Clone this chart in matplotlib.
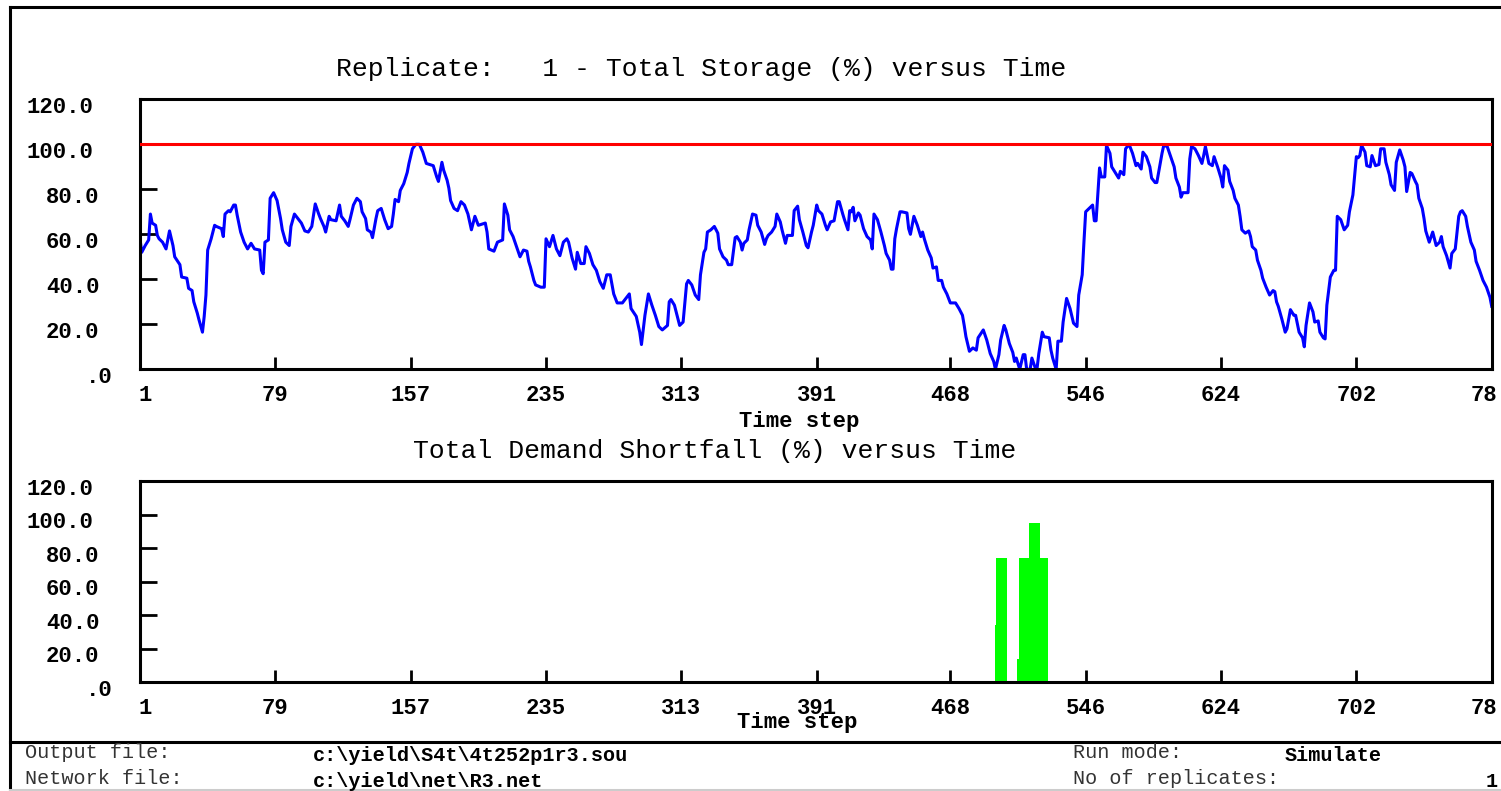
import matplotlib
matplotlib.use("Agg")
import matplotlib.pyplot as plt
from matplotlib import transforms
from matplotlib.lines import Line2D

# reservoir storage (% of full), per time step
storage_step = [
    1, 2, 4, 6, 7, 8, 10, 11, 12, 14,
    16, 18, 20, 21, 24, 25, 28, 29, 31, 32,
    34, 35, 37, 38, 39, 40, 42, 44, 45, 48,
    49, 50, 52, 53, 55, 56, 57, 59, 61, 63,
    65, 67, 70, 71, 72, 73, 75, 76, 78, 80,
    82, 83, 85, 87, 88, 90, 92, 94, 96, 98,
    100, 102, 104, 105, 107, 108, 110, 111, 114, 116,
    117, 119, 121, 122, 124, 126, 128, 129, 131, 132,
    134, 135, 137, 138, 140, 142, 144, 146, 147, 148,
    150, 151, 153, 155, 156,
    158, 160, 162, 164, 166, 168, 170, 172, 173, 175,
    176, 178, 179, 180, 182, 184, 186, 188, 190, 192,
    194, 196, 200, 201, 202, 205, 207, 210, 211, 213,
    214, 216, 218, 220, 222, 224, 225, 226, 228, 229,
    232, 234, 235, 237, 239, 241, 243, 245, 247, 248,
    250, 252, 253, 255, 257, 258, 260, 262, 264, 266,
    268, 270, 272, 274, 276, 279, 281, 283, 284, 287,
    289, 290, 292, 294, 296, 298, 300, 302, 305, 306,
    307, 309, 311, 312,
    314, 316, 317, 319, 321, 323, 324, 326, 327, 328,
    330, 332, 334, 335, 337, 339, 340, 342, 344, 345,
    347, 348, 349, 351, 352, 354, 356, 357, 359, 361,
    362, 363, 365, 367, 368, 370, 371, 373, 374, 377,
    378, 380, 381, 383, 385, 386, 388, 389, 391, 392,
    394, 396, 397, 399, 401, 403, 404, 406, 407, 409,
    410, 411, 412, 413, 415, 416, 418, 420, 422, 423,
    424, 426, 428, 430, 431, 433, 434, 435, 436, 437,
    439, 440, 443, 444, 445, 447, 449, 451, 452, 453,
    455, 457, 458, 460, 461, 463, 464, 466, 468,
    471, 473, 475, 476, 477, 479, 481, 483, 484, 487,
    489, 491, 493, 494, 496, 497, 499, 500, 502, 504,
    505, 506, 508, 510, 511, 512, 514, 515, 517, 518,
    519, 521, 522, 525, 526, 527, 529, 530, 532, 533,
    535, 537, 539, 541, 542, 544, 545, 546, 548, 550,
    551, 552, 553, 554, 555, 557, 558, 560, 561, 563,
    565, 566, 568, 569, 571, 573, 575, 576, 578, 579,
    581, 583, 584, 586, 587, 589, 590, 591, 593, 595,
    597, 598, 600, 601, 602, 605, 606, 607, 609, 611,
    613, 614, 615, 617, 619, 620, 622, 624, 625,
    626, 628, 629, 631, 632, 634, 635, 636, 638, 640,
    641, 642, 644, 645, 647, 648, 650, 652, 654, 655,
    656, 657, 659, 661, 662, 664, 666, 667, 669, 671,
    672, 673, 675, 677, 678, 680, 681, 683, 684, 685,
    687, 689, 690, 691, 693, 695, 697, 698, 700, 702,
    703, 704, 705, 707, 708, 710, 711, 713, 715, 716,
    718, 719, 721, 722, 724, 725, 727, 729, 730, 731,
    733, 734, 736, 737, 738, 740, 741, 742, 744, 746,
    748, 750, 751, 752, 754, 756, 757, 759, 761, 762,
    763, 765, 766, 768, 770, 771, 773, 775, 777, 779,
    780,
]
storage_pct = [
    58, 52, 55, 57.5, 69, 65, 64, 59.5, 58, 56.5,
    53.5, 61.5, 55, 50, 46.5, 41, 40.5, 36, 35, 30,
    25, 22, 16.5, 23.5, 33, 53, 58, 64, 63.5, 62.5,
    59, 69, 70.5, 70, 73, 73, 68.5, 61, 56.5, 53.5,
    56, 53.5, 53, 44, 42.5, 56.5, 57.5, 76, 78.5, 75,
    67, 62, 56.5, 55, 63.5, 69, 67, 65, 61.5, 61,
    63.5, 73.5, 69, 67, 63.5, 61, 68, 66.5, 66, 73,
    68, 66, 63.5, 66.5, 73, 76, 74.5, 70, 67, 62,
    61, 58.5, 67, 70.5, 71.5, 66.5, 62.5, 63.5, 69, 75.5,
    74.5, 79.5, 82.5, 87.5, 91.5,
    98, 100, 100, 96.5, 91.5, 91, 90.5, 85.5, 83.5, 92,
    88.5, 84, 80.5, 75, 71.5, 70.5, 74.5, 73, 69, 62,
    68, 64, 65, 61, 53.5, 52.5, 56.5, 57.5, 73.5, 68.5,
    62, 59, 54.5, 50, 53, 52.5, 48, 45.5, 39.5, 37.5,
    36.5, 36.5, 58, 54.5, 59.5, 53.5, 50.5, 56.5, 58, 56.5,
    49.5, 44.5, 52, 47, 47, 54.5, 51.5, 46.5, 44, 39,
    36, 42, 42, 33.5, 29.5, 29.5, 31.5, 33.5, 27, 23.5,
    16.5, 11, 24, 33.5, 28.5, 24, 19, 17.5, 19.5, 30,
    31, 28.5, 22.5, 19.5,
    21, 38, 39.5, 37.5, 33, 31, 42, 52, 53.5, 61,
    62, 63.5, 60.5, 53.5, 50, 48.5, 46.5, 46.5, 58.5, 59,
    56.5, 53, 56, 57.5, 62, 69, 68.5, 64, 61, 55.5,
    58, 59.5, 61, 63.5, 69, 65.5, 62, 56, 59.5, 59.5,
    70.5, 72.5, 66.5, 61, 55, 54, 61, 64, 73, 70.5,
    69, 64, 62, 65.5, 66, 74.5, 74.5, 69, 66.5, 62,
    70.5, 70, 72, 66, 69.5, 68.5, 62.5, 59, 57.5, 53.5,
    69, 66.5, 61, 55, 51.5, 48.5, 44.5, 44.5, 58, 62.5,
    70, 70, 69.5, 62.5, 60, 68, 64, 59, 61, 58,
    53, 49.5, 45, 45.5, 39.5, 39.5, 36.5, 33.5, 29.5,
    29.5, 27, 24, 19.5, 14.5, 8, 9.5, 8.5, 14, 17.5,
    13, 7, 3.5, 0, 6.5, 13, 19.5, 17.5, 11.5, 7.5,
    3.5, 5, 0, 6.5, 6.5, 0, 0, 5, 0.5, 0.5,
    7, 16.5, 14.5, 14, 8.5, 5, 0, 12.5, 12.5, 21,
    31.5, 27, 20.5, 19, 33, 42, 56.5, 70, 71.5, 73,
    66, 66, 78, 89.5, 85.5, 85.5, 99.5, 96, 90, 87.5,
    85, 88, 86.5, 98, 100, 96, 90.5, 91.5, 89, 96.5,
    94.5, 90, 85, 83, 83, 91.5, 96, 99.5, 99, 94.5,
    90, 85, 81, 76.5, 78.5, 78.5, 93.5, 99, 98, 95,
    91.5, 95, 99, 91.5, 90.5, 94.5, 90, 85, 81,
    90.5, 88.5, 83.5, 79.5, 76, 73, 68, 62, 60.5, 61.5,
    59, 54.5, 53, 48.5, 44, 40.5, 36.5, 33, 35, 34.5,
    30, 28, 22.5, 16.5, 18, 26.5, 24, 24, 16.5, 14,
    10, 19.5, 29.5, 25.5, 21, 21.5, 16.5, 14, 13.5, 28.5,
    41, 44, 44, 68, 66.5, 62, 64, 70, 77.5, 94.5,
    94, 95, 99.5, 96.5, 90.5, 90, 95, 90.5, 91, 98,
    98, 92, 86.5, 82, 79.5, 92, 97.5, 93, 90, 79,
    87.5, 87, 83.5, 82, 76, 71.5, 67, 61.5, 56.5, 61,
    55, 56.5, 59, 54.5, 50.5, 45, 51.5, 53.5, 68, 70,
    70.5, 68, 63.5, 56.5, 53, 48, 44, 39.5, 36.5, 32,
    28,
]
full_level = 100

# total demand shortfall (%), non-zero steps only
shortfall_step = [494, 495, 496, 497, 498, 499, 500,
                  507, 508, 509, 510, 511, 512, 513,
                  514, 515, 516, 517, 518, 519,
                  520, 521, 522, 523, 524]
shortfall_pct = [34, 74, 74, 74, 74, 74, 74,
                 14, 74, 74, 74, 74, 74, 74,
                 95, 95, 95, 95, 95, 95,
                 74, 74, 74, 74, 74]

time_ticks = [1, 79, 157, 235, 313, 391, 468, 546, 624, 702, 780]
time_labels = ["1", "79", "157", "235", "313", "391", "468", "546", "624", "702", "78"]
pct_ticks = [0, 20, 40, 60, 80, 100, 120]
pct_labels = [".0", "20.0", "40.0", "60.0", "80.0", "100.0", "120.0"]

assert len(storage_step) == len(storage_pct)

W, H = 1501, 791
MONO = "Liberation Mono"


def fx(px):
    return px / W


def fy(py):
    return 1 - py / H


fig = plt.figure(figsize=(W / 100, H / 100), dpi=100)
ax1 = fig.add_axes([fx(140), fy(369.3), (1491.7 - 140) / W, (369.3 - 99.3) / H])
ax2 = fig.add_axes([fx(140), fy(682.3), (1491.7 - 140) / W, (682.3 - 481.3) / H])

ax1.plot(storage_step, storage_pct, color="#0000ff", lw=2.2, zorder=2)
ax1.axhline(full_level, color="#ff0000", lw=2.2, zorder=3)
ax2.bar(shortfall_step, shortfall_pct, width=1.0, color="#00ff00", linewidth=0, zorder=2)

for ax, xlab_base, xtitle_base, xtitle_x in ((ax1, 401, 427, 799), (ax2, 714, 728, 797)):
    ax.set_xlim(1, 780)
    ax.set_ylim(0, 120)
    ax.set_xticks(time_ticks[1:-1])
    ax.set_yticks(pct_ticks[1:-1])
    ax.tick_params(axis="x", direction="in", length=9, width=2, labelbottom=False)
    ax.tick_params(axis="y", direction="in", length=12, width=2, labelleft=False)
    for sp in ax.spines.values():
        sp.set_linewidth(2.2)

    ytr = transforms.blended_transform_factory(fig.transFigure, ax.transData) + \
        transforms.ScaledTranslation(0, -8 / 100, fig.dpi_scale_trans)
    for v, lab in zip(pct_ticks, pct_labels):
        ax.text(fx(26 + (5 - len(lab)) * 20), v, lab, transform=ytr, ha="left", va="center",
                fontfamily=MONO, fontweight="bold", fontsize=16)

    xtr = transforms.blended_transform_factory(ax.transData, fig.transFigure)
    for i, (t, lab) in enumerate(zip(time_ticks, time_labels)):
        off = 5 if i == 0 else (-8 if i == len(time_ticks) - 1 else 0)
        tr = xtr + transforms.ScaledTranslation(off / 100, 0, fig.dpi_scale_trans)
        ax.text(t, fy(xlab_base), lab, transform=tr, ha="center", va="baseline",
                fontfamily=MONO, fontweight="bold", fontsize=16)

    fig.text(fx(xtitle_x), fy(xtitle_base), "Time step", ha="center", va="baseline",
             fontfamily=MONO, fontweight="bold", fontsize=16)

fig.text(fx(701), fy(76), "Replicate:   1 - Total Storage (%) versus Time",
         ha="center", va="baseline", fontfamily=MONO, fontsize=19)
fig.text(fx(715), fy(458), "Total Demand Shortfall (%) versus Time",
         ha="center", va="baseline", fontfamily=MONO, fontsize=19)

# frame and footer
for xs, ys, c in (([9.5, 9.5], [7, 791], "black"),
                  ([9.5, W], [7, 7], "black"),
                  ([9.5, W], [742, 742], "black"),
                  ([9.5, W], [790, 790], "#cccccc")):
    fig.add_artist(Line2D([fx(x) for x in xs], [fy(y) for y in ys], color=c, lw=2.2,
                          solid_capstyle="projecting", transform=fig.transFigure))

footer = [
    (25, 758, "Output file:", "normal"),
    (25, 784, "Network file:", "normal"),
    (313, 761, "c:\\yield\\S4t\\4t252p1r3.sou", "bold"),
    (313, 787, "c:\\yield\\net\\R3.net", "bold"),
    (1073, 758, "Run mode:", "normal"),
    (1073, 784, "No of replicates:", "normal"),
    (1285, 761, "Simulate", "bold"),
    (1486, 787, "1", "bold"),
]
for x, y, s, w in footer:
    fig.text(fx(x), fy(y), s, ha="left", va="baseline", fontfamily=MONO,
             fontweight=w, fontsize=14.5, color="#333333" if w == "normal" else "black")

fig.savefig("out.png", dpi=100)
